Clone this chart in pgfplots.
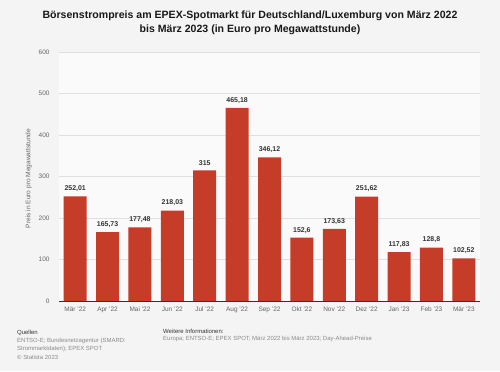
\documentclass[border=0pt]{standalone}
\usepackage{pgfplots}
\pgfplotsset{compat=1.18}
\usepackage{fontspec}
\setmainfont{Liberation Sans}
\definecolor{bg}{HTML}{F4F4F4}
\definecolor{barred}{HTML}{C53D28}
\definecolor{ticktxt}{HTML}{666666}
\definecolor{valtxt}{HTML}{333333}
\definecolor{foot}{HTML}{8A8A8A}
\begin{document}
\begin{tikzpicture}[x=1bp,y=1bp]
\fill[bg] (0,0) rectangle (500,371);
\useasboundingbox (0,0) rectangle (500,371);
\node[align=center,font=\fontsize{10.6}{14.5}\selectfont\bfseries,text=black!90] at (250,348) {Börsenstrompreis am EPEX-Spotmarkt für Deutschland/Luxemburg von März 2022\\bis März 2023 (in Euro pro Megawattstunde)};
\begin{axis}[
  at={(59bp,70bp)}, anchor=south west,
  scale only axis, width=421bp, height=249bp,
  xmin=-0.5, xmax=12.5, ymin=0, ymax=600,
  ytick={0,100,...,600},
  xtick={0,...,12},
  xticklabels={Mär '22,Apr '22,Mai '22,Jun '22,Jul '22,Aug '22,Sep '22,Okt '22,Nov '22,Dez '22,Jan '23,Feb '23,Mär '23},
  axis line style={draw=none},
  axis x line*=bottom,
  hide y axis=false,
  ymajorgrids, grid style={draw=black!12, line width=0.4pt},
  major tick length=0pt,
  tick label style={font=\fontsize{6.5}{7}\selectfont, text=ticktxt},
  yticklabel style={xshift=-6bp},
  xticklabel style={yshift=-2bp},
  /pgf/number format/assume math mode=true,
  ylabel={Preis in Euro pro Megawattstunde},
  ylabel style={font=\fontsize{6.6}{7}\selectfont, text=ticktxt},
  every axis y label/.append style={at={(ticklabel cs:0.5)}, xshift=-2bp},
  axis background/.style={fill=white!50!bg},
  ybar, bar width=23bp,
  nodes near coords={\pgfmathprintnumber[use comma,fixed,precision=2,assume math mode=true]{\pgfplotspointmeta}},
  nodes near coords style={font=\fontsize{7}{8}\selectfont\bfseries, text=valtxt, yshift=1bp},
  clip=false,
]
\addplot[fill=barred, draw=none] coordinates {
(0,252.01) (1,165.73) (2,177.48) (3,218.03) (4,315) (5,465.18) (6,346.12) (7,152.6) (8,173.63) (9,251.62) (10,117.83) (11,128.8) (12,102.52)};
\draw[black!80, line width=0.6pt] (axis cs:-0.5,0) -- (axis cs:12.5,0);
\end{axis}
\begin{scope}[every node/.style={anchor=west, inner sep=0pt, font=\fontsize{6}{7}\selectfont}]
\node[text=black!80] at (17,38) {Quellen};
\node[text=foot] at (17,30) {ENTSO-E; Bundesnetzagentur (SMARD:};
\node[text=foot] at (17,22) {Strommarktdaten); EPEX SPOT};
\node[text=foot] at (17,14) {© Statista 2023};
\node[text=black!80] at (163,40) {Weitere Informationen:};
\node[text=foot] at (163,32) {Europa; ENTSO-E; EPEX SPOT; März 2022 bis März 2023; Day-Ahead-Preise};
\end{scope}
\end{tikzpicture}
\end{document}
